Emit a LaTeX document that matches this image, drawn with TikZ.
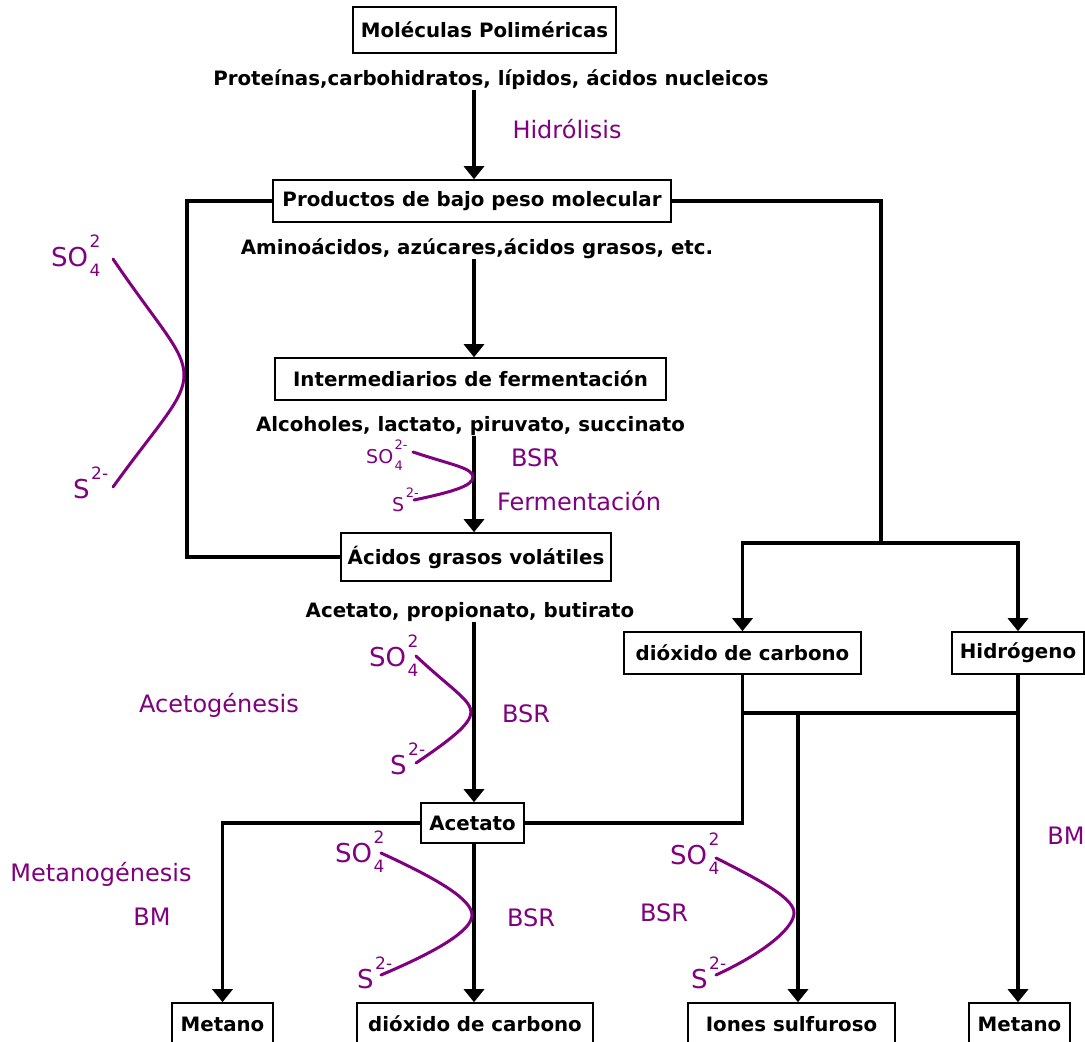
\documentclass[tikz,border=0pt]{standalone}
\usepackage{fontspec}
\setmainfont{DejaVu Sans}
\usetikzlibrary{arrows.meta}
\definecolor{violeta}{RGB}{128,0,128}
% SO4 with a charge above the index; S with its charge
\newcommand\sulf[2]{SO\kern1.5pt\rlap{\raisebox{0.7em}{\fontsize{#1}{#1}\selectfont #2}}\raisebox{-0.42em}{\fontsize{#1}{#1}\selectfont 4}}
\newcommand\sulfuro[1]{S\kern1.5pt\raisebox{0.72em}{\fontsize{#1}{#1}\selectfont 2-}}
\begin{document}
\begin{tikzpicture}[x=1pt,y=-1pt,
  box/.style={draw,line width=1.6pt,minimum height=42pt,inner sep=0pt,fill=white,
    font=\bfseries\fontsize{19.8}{22}\selectfont},
  lbl/.style={inner sep=0pt,font=\bfseries\fontsize{19.8}{22}\selectfont},
  proc/.style={inner sep=0pt,text=violeta,font=\fontsize{24}{26}\selectfont},
  chem/.style={inner sep=0pt,anchor=base west,text=violeta,font=\fontsize{26}{28}\selectfont},
  link/.style={line width=3.4pt},
  arr/.style={link,-{Triangle[width=20pt,length=13pt]}},
  sulfcurve/.style={violeta,line width=3pt,line cap=round}]
\fill[white] (0,0) rectangle (1085,1042);
\useasboundingbox (0,0) rectangle (1085,1042);

% main column
\node[box,minimum width=263pt,minimum height=46pt] (mol) at (484.5,30) {Moléculas Poliméricas};
\node[lbl] (prot) at (491,80) {Proteínas,carbohidratos, lípidos, ácidos nucleicos};
\node[proc] (hidro) at (567,129) {Hidrólisis};
\node[box,minimum width=398pt] (prod) at (472,201) {Productos de bajo peso molecular};
\node[lbl] (amino) at (477,249) {Aminoácidos, azúcares,ácidos grasos, etc.};
\node[box,minimum width=391pt] (inter) at (470.5,379) {Intermediarios de fermentación};
\node[lbl] (alco) at (470.5,426) {Alcoholes, lactato, piruvato, succinato};
\node[proc] (bsrA) at (535,458) {BSR};
\node[proc] (ferm) at (579,501) {Fermentación};
\node[box,minimum width=270pt,minimum height=48pt] (agv) at (476,557) {Ácidos grasos volátiles};
\node[lbl] (acetp) at (470,612) {Acetato, propionato, butirato};
\node[proc] (acetog) at (219,705) {Acetogénesis};
\node[proc] (bsrB) at (526,714) {BSR};
\node[box,minimum width=103pt,minimum height=40pt] (acet) at (472.5,823) {Acetato};

% gases
\node[box,minimum width=237pt] (co2a) at (742.5,653) {dióxido de carbono};
\node[box,minimum width=132pt] (h2) at (1018,653) {Hidrógeno};

% lower labels
\node[proc] (metan) at (101,874) {Metanogénesis};
\node[proc] (bmA) at (152,917) {BM};
\node[proc] (bsrC) at (531,918) {BSR};
\node[proc] (bsrD) at (664,913) {BSR};
\node[proc] (bmB) at (1066,836) {BM};

% end products
\node[box,minimum width=101pt] (met1) at (222.5,1024) {Metano};
\node[box,minimum width=236pt] (co2b) at (475,1024) {dióxido de carbono};
\node[box,minimum width=207pt] (iones) at (791.5,1024) {Iones sulfuroso};
\node[box,minimum width=101pt] (met2) at (1019.5,1024) {Metano};

% connectors
\coordinate (cx) at (474,0);
\draw[arr] (prot.south -| cx) -- (prod.north -| cx);
\draw[arr] (amino.south -| cx) -- (inter.north -| cx);
\draw[arr] (alco.south -| cx) -- (agv.north -| cx);
\draw[arr] (acetp.south -| cx) -- (acet.north -| cx);
\draw[arr] (acet.south -| cx) -- (co2b.north -| cx);

\coordinate (loopL) at (187,201);
\draw[link] (prod.west) -- (loopL) |- (agv.west);

\coordinate (split) at (881,543);
\draw[link] (prod.east) -| (split);
\draw[arr] (split) -| (co2a.north);
\draw[arr] (split) -| (h2.north);

\coordinate (bus) at (742.5,713);
\draw[link] (co2a.south) -- (bus) -- (bus -| h2.south);
\draw[arr] (h2.south) -- (met2.north -| h2.south);
\draw[link] (bus) |- (acet.east);
\coordinate (tap) at (798,713);
\draw[arr] (tap) -- (iones.north -| tap);
\draw[arr] (acet.west) -| (met1.north);

% sulfate reduction curves
\draw[sulfcurve] (113,259) .. controls (160,328) and (184,350) .. (184,375)
  .. controls (184,400) and (160,422) .. (113,487);
\node[chem] (soA) at (51,266) {\sulf{17}{2}};
\node[chem] (sA) at (73,498) {\sulfuro{17}};

\draw[sulfcurve] (413,452) .. controls (452,465) and (473,468) .. (473,477)
  .. controls (473,486) and (452,492) .. (414,500);
\node[chem,font=\fontsize{19}{20}\selectfont] (soB) at (366,463) {\sulf{13}{2-}};
\node[chem,font=\fontsize{19}{20}\selectfont] (sB) at (392,511) {\sulfuro{13}};

\draw[sulfcurve] (416,656) .. controls (450,688) and (471,700) .. (471,712)
  .. controls (471,724) and (450,740) .. (416,763);
\node[chem] (soC) at (369,666) {\sulf{17}{2}};
\node[chem] (sC) at (390,774) {\sulfuro{17}};

\draw[sulfcurve] (381,853) .. controls (440,880) and (472,900) .. (472,915)
  .. controls (472,930) and (440,950) .. (381,975);
\node[chem] (soD) at (335,862) {\sulf{17}{2}};
\node[chem] (sD) at (357,988) {\sulfuro{17}};

\draw[sulfcurve] (716,858) .. controls (770,885) and (794,900) .. (794,913)
  .. controls (794,926) and (770,950) .. (716,975);
\node[chem] (soE) at (670,864) {\sulf{17}{2}};
\node[chem] (sE) at (691,988) {\sulfuro{17}};
\end{tikzpicture}
\end{document}
